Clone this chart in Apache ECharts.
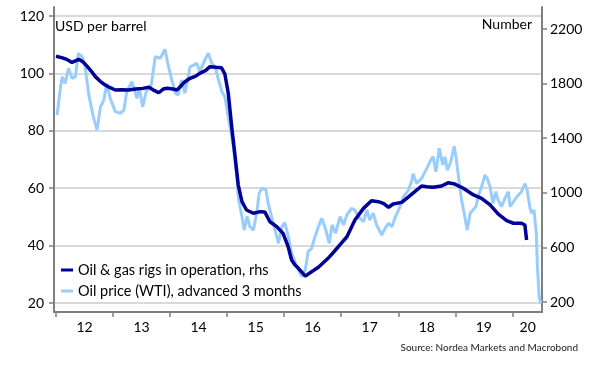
<!DOCTYPE html>
<html>
<head>
<meta charset="utf-8">
<script src="https://cdn.jsdelivr.net/npm/echarts@6/dist/echarts.min.js"></script>
<style>
html,body{margin:0;padding:0;background:#fff;}
#c{width:604px;height:369px;}
</style>
</head>
<body>
<div id="c"></div>
<script>
// ---- data ----
const yearLabels = ['12','13','14','15','16','17','18','19','20'];
const yearTicks = [2012,2013,2014,2015,2016,2017,2018,2019,2020];
const yearLabelPos = [2012.5,2013.5,2014.5,2015.5,2016.5,2017.5,2018.5,2019.5,2020.27];

const rigYears = [2012.00,2012.10,2012.20,2012.28,2012.35,2012.40,2012.47,2012.54,2012.62,2012.69,2012.78,2012.86,2012.95,
  2013.04,2013.15,2013.27,2013.40,2013.52,2013.63,2013.72,2013.80,2013.88,2013.95,
  2014.05,2014.12,2014.17,2014.25,2014.35,2014.45,2014.52,2014.62,2014.70,2014.80,2014.90,2014.96,
  2015.02,2015.08,2015.14,2015.195,2015.26,2015.34,2015.46,2015.58,2015.66,2015.75,2015.87,2015.98,
  2016.07,2016.13,2016.19,2016.25,2016.37,2016.48,2016.60,2016.77,2016.95,
  2017.10,2017.24,2017.39,2017.53,2017.65,2017.74,2017.83,2017.91,
  2018.06,2018.18,2018.29,2018.41,2018.50,2018.61,2018.76,2018.88,2018.99,
  2019.14,2019.32,2019.46,2019.61,2019.75,2019.90,
  2020.02,2020.16,2020.22,2020.25];
const rigValues = [2000,1990,1975,1955,1968,1978,1960,1930,1890,1851,1815,1790,1770,
  1753,1755,1753,1760,1765,1773,1750,1733,1760,1766,
  1760,1753,1773,1810,1839,1855,1875,1895,1924,1920,1917,1870,
  1729,1484,1264,1057,935,874,850,862,860,788,752,703,
  605,508,471,447,390,422,454,520,605,
  678,801,886,942,935,923,894,918,
  930,970,1008,1050,1045,1040,1050,1074,1064,
  1033,984,960,911,845,796,
  777,777,764,654];

const wtiYears = [2012.02,2012.08,2012.11,2012.16,2012.22,2012.28,2012.34,2012.39,2012.46,2012.51,2012.58,2012.66,2012.72,2012.78,2012.84,2012.89,2012.95,
  2013.04,2013.13,2013.19,2013.24,2013.33,2013.42,2013.46,2013.52,2013.58,2013.67,2013.74,2013.83,2013.91,2013.96,
  2014.03,2014.09,2014.14,2014.20,2014.26,2014.35,2014.41,2014.47,2014.52,2014.61,2014.67,2014.73,2014.79,2014.85,2014.91,2014.96,
  2015.02,2015.05,2015.11,2015.17,2015.20,2015.26,2015.30,2015.35,2015.40,2015.46,2015.52,2015.56,2015.61,2015.68,2015.72,2015.78,2015.84,2015.90,2015.96,
  2016.01,2016.07,2016.13,2016.22,2016.31,2016.37,2016.42,2016.48,2016.54,2016.60,2016.66,2016.73,2016.79,2016.84,2016.90,2016.98,
  2017.04,2017.10,2017.18,2017.24,2017.30,2017.39,2017.45,2017.50,2017.56,2017.62,2017.71,2017.77,2017.83,2017.89,2017.94,
  2018.03,2018.09,2018.18,2018.24,2018.26,2018.32,2018.41,2018.50,2018.57,2018.61,2018.66,2018.72,2018.78,2018.82,2018.86,2018.92,2018.98,
  2019.02,2019.07,2019.11,2019.15,2019.21,2019.26,2019.31,2019.36,2019.42,2019.48,2019.52,2019.56,2019.61,2019.66,2019.71,2019.75,2019.81,2019.87,2019.93,2019.96,
  2020.02,2020.08,2020.16,2020.22,2020.26,2020.31,2020.34,2020.38,2020.42,2020.44,2020.47,2020.50];
const wtiValues = [85.5,95.4,98.8,96.5,101.8,98.3,98.8,107,105.8,102.3,91.9,84.4,80.3,88.4,90.7,96.5,91.3,
  86.7,86.1,87.2,93.6,97.1,91.3,94.8,88.4,93.6,96,105.8,105.3,108.4,103.5,
  97.7,93.1,92.5,97.7,93.1,102.3,102.9,103.5,100.6,104.7,107,103.5,102.3,97.7,93.6,91.9,
  84.9,81.4,74.5,64,56,50.1,45.4,50.2,46.6,45.4,51.5,58.2,60,59.4,54.7,50,45.4,40.8,46.6,
  48,43.5,37.5,32.6,29.2,31.5,37.9,39,43.1,46.6,49.5,45.4,40.8,47.2,44.3,50.1,
  47.2,50.7,53,52.4,50.1,48.3,52.4,48.9,51.3,47.2,43.7,46,47.8,46.6,49.5,
  53.6,57,59.4,62.9,65,61.7,63.4,66.9,69.8,71,65.7,73.9,68.1,71,66.3,69.2,74.7,
  69.8,61.7,55.9,51.8,45.4,51.3,52.4,53.6,58.2,61.7,64.6,63.4,60.5,54.7,58.8,55.9,53.6,56.5,58.8,53.6,
  55.3,57,58.8,61.5,59.4,53,51.3,52.4,44.3,32.6,22.2,19.9];

const leftTicks = [20,120,20];   // min, max, step
const rightTicks = [200,2200,400];
const seriesNames = ['Oil & gas rigs in operation, rhs','Oil price (WTI), advanced 3 months'];

// ---- chart ----
const FONT = 'Lato';
const xMin = 2011.965, xMax = 2020.52;
const chart = echarts.init(document.getElementById('c'), null, {renderer:'canvas'});
const rigData = rigYears.map((y,i)=>[y,rigValues[i]]);
const wtiData = wtiYears.map((y,i)=>[y,wtiValues[i]]);
const hiddenX = (g)=>({type:'value',gridIndex:g,min:xMin,max:xMax,show:false});

chart.setOption({
  animation:false,
  backgroundColor:'#fff',
  textStyle:{fontFamily:FONT},
  grid:[
    {left:54,right:62,top:7,bottom:57},
    {left:54,right:62,top:16,bottom:66},
    {left:54,right:62,top:29,bottom:67}
  ],
  xAxis:[
    {type:'value',gridIndex:0,min:xMin,max:xMax,
     axisLine:{show:true,lineStyle:{color:'#808080',width:2}},
     axisTick:{show:true,inside:false,length:5,lineStyle:{color:'#808080',width:1.5},customValues:yearTicks},
     axisLabel:{show:true,customValues:yearLabelPos,margin:8,color:'#000',fontSize:14,fontFamily:FONT,
       formatter:(v)=>{const i=yearLabelPos.indexOf(v);return i>=0?yearLabels[i]:'';}},
     splitLine:{show:false}},
    hiddenX(1),
    hiddenX(2)
  ],
  yAxis:[
    {type:'value',gridIndex:0,position:'left',min:0,max:1,
     axisLine:{show:true,lineStyle:{color:'#808080',width:2}},
     axisTick:{show:false},axisLabel:{show:false},splitLine:{show:false}},
    {type:'value',gridIndex:0,position:'right',min:0,max:1,
     axisLine:{show:true,lineStyle:{color:'#808080',width:2}},
     axisTick:{show:false},axisLabel:{show:false},splitLine:{show:false}},
    {type:'value',gridIndex:1,position:'left',min:leftTicks[0],max:leftTicks[1],interval:leftTicks[2],
     axisLine:{show:false},
     axisTick:{show:true,inside:false,length:5,lineStyle:{color:'#808080',width:1.5}},
     axisLabel:{margin:10,color:'#000',fontSize:14,fontFamily:FONT,formatter:(v)=>String(v)},
     splitLine:{show:true,lineStyle:{color:'#d9d9d9',width:2}}},
    {type:'value',gridIndex:2,position:'right',min:rightTicks[0],max:rightTicks[1],interval:rightTicks[2],
     axisLine:{show:false},
     axisTick:{show:true,inside:false,length:5,lineStyle:{color:'#808080',width:1.5}},
     axisLabel:{margin:8,color:'#000',fontSize:14,fontFamily:FONT,formatter:(v)=>String(v)},
     splitLine:{show:false}}
  ],
  legend:{
    orient:'vertical',left:56,top:256,itemWidth:12,itemHeight:3,itemGap:3,
    icon:'rect',
    data:[seriesNames[0],seriesNames[1]],
    textStyle:{fontFamily:FONT,fontSize:14.5,color:'#000',lineHeight:18}
  },
  series:[
    {name:seriesNames[1],type:'line',xAxisIndex:1,yAxisIndex:2,data:wtiData,showSymbol:false,symbol:'none',
     clip:false,lineStyle:{color:'#99ccff',width:3},itemStyle:{color:'#99ccff'},z:2},
    {name:seriesNames[0],type:'line',xAxisIndex:2,yAxisIndex:3,data:rigData,showSymbol:false,symbol:'none',
     clip:false,lineStyle:{color:'#000096',width:3.5},itemStyle:{color:'#000096'},z:3}
  ],
  graphic:[
    {type:'text',left:55,top:19,style:{text:'USD per barrel',font:'14px '+FONT,fill:'#000'}},
    {type:'text',right:72,top:17,style:{text:'Number',font:'14px '+FONT,fill:'#000'}},
    {type:'text',right:26,top:343,style:{text:'Source: Nordea Markets and Macrobond',font:'10px '+FONT,fill:'#1a1a1a'}}
  ]
});
</script>
</body>
</html>
